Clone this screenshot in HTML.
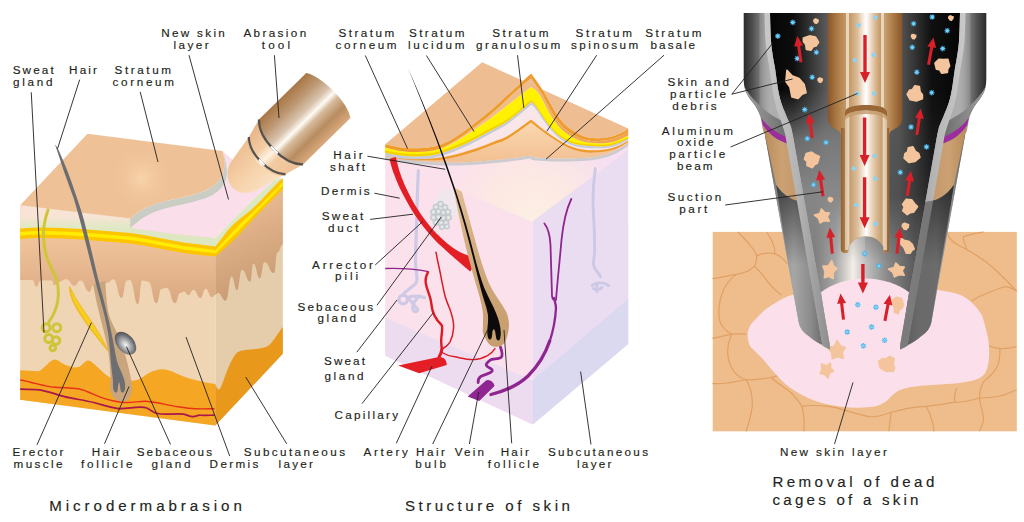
<!DOCTYPE html>
<html><head><meta charset="utf-8"><title>Microdermabrasion</title>
<style>
html,body{margin:0;padding:0;background:#fff;}
body{width:1024px;height:522px;overflow:hidden;font-family:"Liberation Sans",sans-serif;}
svg{display:block;}
text{font-family:"Liberation Sans",sans-serif;fill:#231f20;stroke:#231f20;stroke-width:0.16px;}
</style></head><body>
<svg width="1024" height="522" viewBox="0 0 1024 522">
<rect width="1024" height="522" fill="#ffffff"/>
<g id="left-diagram">
<defs>
<linearGradient id="lEpi" x1="0" y1="0" x2="0" y2="1"><stop offset="0" stop-color="#f1c59c"/><stop offset="0.55" stop-color="#e6b78f"/><stop offset="1" stop-color="#d7a780"/></linearGradient>
<linearGradient id="lEpiR" x1="0" y1="0" x2="0.25" y2="1"><stop offset="0" stop-color="#f1c8a0"/><stop offset="0.5" stop-color="#dfb088"/><stop offset="1" stop-color="#c89c74"/></linearGradient>
<linearGradient id="lPinkGreen" x1="0" y1="0" x2="0" y2="1"><stop offset="0" stop-color="#fbe3da"/><stop offset="0.45" stop-color="#f6e4d4"/><stop offset="0.7" stop-color="#e3e8c6"/><stop offset="1" stop-color="#dde7c2"/></linearGradient>
<radialGradient id="lTopHi" cx="142" cy="178" r="34" gradientUnits="userSpaceOnUse"><stop offset="0" stop-color="#f8d4ab"/><stop offset="1" stop-color="#efc197" stop-opacity="0"/></radialGradient>
<radialGradient id="lSeb" cx="0.55" cy="0.55" r="0.6"><stop offset="0" stop-color="#f6f6f6"/><stop offset="0.3" stop-color="#bcbdc0"/><stop offset="0.75" stop-color="#6a6b6e"/><stop offset="1" stop-color="#4d4d50"/></radialGradient>
<linearGradient id="tCyl" x1="0" y1="-31.5" x2="0" y2="31.5" gradientUnits="userSpaceOnUse"><stop offset="0" stop-color="#a87745"/><stop offset="0.22" stop-color="#bd9772"/><stop offset="0.42" stop-color="#d9c4ae"/><stop offset="0.53" stop-color="#fffbf5"/><stop offset="0.62" stop-color="#d6bb9c"/><stop offset="0.8" stop-color="#b88c60"/><stop offset="1" stop-color="#d9a97c"/></linearGradient>
<linearGradient id="tNeck" x1="0" y1="-30" x2="0" y2="30" gradientUnits="userSpaceOnUse"><stop offset="0" stop-color="#e6b486"/><stop offset="0.35" stop-color="#f3cba2"/><stop offset="0.52" stop-color="#fff3e2"/><stop offset="0.65" stop-color="#f3cba2"/><stop offset="1" stop-color="#eec197"/></linearGradient>
<linearGradient id="tTip" x1="0" y1="-26" x2="0" y2="26" gradientUnits="userSpaceOnUse"><stop offset="0" stop-color="#edbe92"/><stop offset="0.5" stop-color="#f6d2aa"/><stop offset="1" stop-color="#fbe2c4"/></linearGradient>
<clipPath id="lFrontClip"><polygon points="20.2,205 215.3,226 215.3,425.6 20.2,399.8"/></clipPath>
</defs>
<!-- right face base (dermis) -->
<polygon points="215.3,240 282.8,178.5 282.8,353.7 215.3,425.6" fill="#e5cdab"/>
<!-- front face base (dermis) -->
<polygon points="20.2,205.2 130.3,218.4 215.3,238 215.3,425.6 20.2,399.8" fill="#f0d5b4"/>
<!-- right face epidermis with ridges -->
<path d="M215.3,248 L282.8,183 L282.8,244.7 C280.1,244.7 280.1,252.4 277.4,252.4 C275.7,252.4 275.7,273.1 274.0,273.1 C269.2,273.1 269.2,261.9 264.5,261.9 C262.1,261.9 262.1,278.3 259.8,278.3 C256.6,278.3 256.6,263.6 253.3,263.6 C251.8,263.6 251.8,281.7 250.2,281.7 C246.1,281.7 246.1,269.7 242.0,269.7 C239.4,269.7 239.4,290.3 236.9,290.3 C234.3,290.3 234.3,276.6 231.7,276.6 C228.7,276.6 228.7,300.7 225.7,300.7 C221.8,300.7 221.8,292.9 217.9,292.9 C216.6,292.9 216.6,294.7 215.3,294.7 Z" fill="url(#lEpiR)"/>
<!-- front face epidermis with ridges -->
<path d="M20.2,232 L215.3,250 L215.3,294.7 C213.6,294.7 213.6,297.2 211.9,297.2 C208.8,297.2 208.8,288.8 205.7,288.8 C203.1,288.8 203.1,298.0 200.6,298.0 C197.0,298.0 197.0,289.9 193.4,289.9 C190.9,289.9 190.9,295.0 188.3,295.0 C186.2,295.0 186.2,291.5 184.0,291.5 C182.1,291.5 182.1,292.9 180.1,292.9 C177.6,292.9 177.6,303.2 175.0,303.2 C170.9,303.2 170.9,287.8 166.8,287.8 C164.2,287.8 164.2,288.8 161.6,288.8 C159.1,288.8 159.1,303.2 156.5,303.2 C152.4,303.2 152.4,281.7 148.3,281.7 C145.2,281.7 145.2,280.6 142.2,280.6 C140.1,280.6 140.1,304.2 138.0,304.2 C133.9,304.2 133.9,280.0 129.8,280.0 C128.3,280.0 128.3,280.6 126.8,280.6 C124.2,280.6 124.2,298.0 121.6,298.0 C117.5,298.0 117.5,279.2 113.4,279.2 C110.3,279.2 110.3,282.7 107.3,282.7 C103.7,282.7 103.7,290.0 100.0,290.0 C97.0,290.0 97.0,283.7 94.0,283.7 C91.6,283.7 91.6,291.9 89.2,291.9 C84.9,291.9 84.9,280.6 80.6,280.6 C77.5,280.6 77.5,285.8 74.5,285.8 C70.4,285.8 70.4,279.2 66.3,279.2 C62.6,279.2 62.6,281.7 59.0,281.7 C56.5,281.7 56.5,285.4 54.0,285.4 C53.0,285.4 53.0,280.6 51.9,280.6 C46.2,280.6 46.2,280.6 40.6,280.6 C38.5,280.6 38.5,286.8 36.5,286.8 C34.5,286.8 34.5,280.0 32.4,280.0 C26.3,280.0 26.3,280.0 20.2,280.0 Z" fill="url(#lEpi)"/>
<!-- erector muscle -->
<path d="M68.8,286.7 C69.0,287.8 69.1,290.9 69.8,293.7 C70.6,296.4 71.6,299.8 73.2,303.2 C74.8,306.6 76.9,310.2 79.5,314.2 C82.1,318.1 86.0,323.7 88.5,327.2 C91.1,330.8 92.8,332.6 94.9,335.4 C97.1,338.2 99.5,341.3 101.6,343.9 C103.7,346.6 106.6,350.0 107.6,351.3 L108.4,350.7 C107.8,349.3 106.0,345.1 104.4,342.1 C102.9,339.1 100.9,335.6 99.1,332.6 C97.2,329.5 95.9,327.4 93.5,323.8 C91.0,320.2 87.1,314.7 84.5,310.8 C81.9,307.0 79.7,303.9 77.8,300.8 C75.9,297.7 74.5,294.7 73.2,292.3 C71.9,289.9 70.5,287.3 70.0,286.3 Z" fill="#edbd2a"/>
<path d="M71.0,292.2 C71.7,293.9 73.2,299.1 74.9,302.6 C76.5,306.1 78.7,309.5 81.2,313.4 C83.6,317.3 87.2,322.4 89.7,325.9 C92.2,329.4 93.9,331.5 96.0,334.2 C98.2,336.9 101.5,340.9 102.6,342.3 L103.4,341.7 C102.5,340.2 99.8,335.7 98.0,332.8 C96.1,329.9 94.7,327.6 92.3,324.1 C90.0,320.6 86.4,315.4 83.8,311.6 C81.3,307.8 79.1,304.7 77.1,301.4 C75.2,298.1 72.8,293.4 72.0,291.8 Z" fill="#f8cf1c"/>
<!-- hypodermis front -->
<path d="M20.2,370.3 L39,371.200 C45,368 50,360 54.700,359.5 C58,359.500 61,363 64.500,364.400 C69,366 73,368 78,367.300 C82,366 85,360.500 87.900,360.500 C91,360.5 94,364 97.700,367.300 C102,371 105,375 109.400,377 C118,381 128,382 136.700,380 C141,379 144,375.500 148.400,373.200 C153,371 158,369.300 162,369.300 C167,369.3 171,371 175.800,373.200 C182,376 189,378.500 195.300,380 C203,382 209,383 215.3,384 L215.3,425.6 L20.2,399.8 Z" fill="#f5a623"/>
<!-- hypodermis right -->
<path d="M215.3,384 C216.5,387 217.5,390 219,389.5 C221,388.5 222.500,383 224,379 C227,371 229.500,364 232,360 C234,356 236,353 238,352 C242,350 246,350 250,349.500 C256,349 262,348.500 267,346.500 C270,345 272.500,341.500 275,338 C278,334 280,330 282.8,327 L282.8,353.7 L215.3,425.6 Z" fill="#e8991c"/>
<!-- vessels -->
<path d="M20.2,380 C24,380.5 27,381.500 29.300,382 C38,384 46,386.500 54.700,387.300 C63,388 71,387.500 78,388.800 C87,390.500 94,395 101.600,397.600 C109,400 117,402 125,402.500 C133,403 141,400.500 148.400,401.500 C158,402.500 167,405 175.800,406.400 C183,407.500 189,408.500 195.300,408.750 C202,409 208,408.800 214.500,408.750" fill="none" stroke="#e8311a" stroke-width="1.4"/>
<path d="M20.2,389.2 C27,389.500 33,389 39,389.800 C48,391 56,394.500 64.500,396.600 C74,399 84,400 93.750,402.500 C102,404.500 109,407.500 117.200,408.400 C126,409.500 136,406 144.500,407.400 C149,408 152,412 156.250,413.200 C165,415.500 175,413 183.600,414.200 C187,414.700 190,417 193.400,416.600 C196,416.300 198,415 200,415.200 C205,415.500 210,415.200 214.500,415.200" fill="none" stroke="#a9174b" stroke-width="1.7"/>
<!-- hair follicle -->
<path d="M93,284 C94,289 96,300 98.5,310.3 C100.500,319 103,328 105.2,337.1 C107,345 108.500,352 109.2,358.6 C110,366 110.200,372 110.5,377.4 C110.500,382 109.800,386 110.5,390.8 C111.500,397 116,401.5 122.6,401.5 C128,401.500 132,396 132,388 C132,384 131.500,381 130.7,377.4 C129,369 126.500,359 124,350.5 C121.500,343 119,336 115.9,330.4 C112,323 109,317 107.9,310.3 C106.500,302 106,292 105.2,281 Z" fill="#c9a57e"/>
<!-- pale layers front (left part) -->
<polygon points="20.2,205.2 130.3,218.4 130.3,234 20.2,229" fill="url(#lPinkGreen)"/>
<!-- green front abraded part + around corner -->
<path d="M130.3,226.5 L170,233.5 L215.3,238 L236,216.600 L255.500,197.100 L275,179.500 L282.8,178.5 L282.8,186 L215.3,250 L130.3,236 Z" fill="#dde7c2"/>
<!-- new skin pink -->
<path d="M130.3,227.8 C140,219 150,213 162,209.5 C176,205.5 192,203 205,198.500 C215,195 224,188 226.500,178 C228,170 226,160 222.5,151 L240,166 L282.8,178.5 L275,179.500 L255.500,197.100 L236,216.600 L215.3,238 L170,233.5 Z" fill="#fadfeb"/>
<!-- grey cut edge -->
<path d="M130.3,218.4 C140,210 150,205 160,202.5 C176,198.500 192,196 203,191.500 C213,187.500 221,181 223.500,172 C225,165 224.500,158 222.5,151 C226,160 228,170 226.500,178 C224,188 215,195 205,198.500 C192,203 176,205.500 162,209.500 C150,213 140,219 130.3,227.8 Z" fill="#c9cdc4"/>
<!-- top face -->
<path d="M20.2,205.2 L87.5,133.750 L222.5,151 C224.500,158 225,165 223.500,172 C221,181 213,187.500 203,191.500 C192,196 176,198.500 160,202.500 C150,205 140,210 130.3,218.4 Z" fill="#efc197"/>
<path d="M20.2,205.2 L87.5,133.750 L222.5,151 C224.500,158 225,165 223.500,172 C221,181 213,187.500 203,191.500 C192,196 176,198.500 160,202.500 C150,205 140,210 130.3,218.4 Z" fill="url(#lTopHi)"/>
<!-- yellow band front + right -->
<path d="M20.2,228.6 C34,227 48,227.500 62,228 C75,228.500 88,229.500 100,230.500 C110,231.300 120,232 130,233 C144,235 157,237.500 170,240 C180,242 190,243.500 200,244.500 C205,245 210,246 215.3,246.5 C222,239 228,228 237.900,220.500 C244,215 251,211 259.400,202 C267,194 274,186 280.900,179.500 L282.8,178.5 L282.8,189.3 C275,197 267,205 259.400,212.700 C252,221 246,226 239.800,234.200 C231,243 223,250 215.3,256.5 C210,256 205,255.500 200,255 C190,254 180,252.500 170,250.500 C157,248 144,245.500 130,243.500 C120,242.500 110,241.800 100,241 C88,240 75,239 62,238.500 C48,238 34,237.500 20.2,239.2 Z" fill="#fdc400"/>
<path d="M20.2,232 C34,230.500 48,231 62,231.500 C75,232 88,233 100,234 C110,234.800 120,235.500 130,236.500 C144,238.500 157,241 170,243.500 C180,245.500 190,247 200,248 C205,248.500 210,249.500 215.3,250.500 L238.500,225.500 L259.400,206 L282.8,182.5 L282.8,185.500 L259.400,209.200 L239.300,230 L215.3,253.500 C210,252.500 205,252 200,251.500 C190,250.500 180,249 170,247 C157,244.500 144,242 130,240 C120,239 110,238.300 100,237.500 C88,236.500 75,235.500 62,235 C48,234.500 34,234 20.2,235.500 Z" fill="#ffec00"/>
<!-- sweat gland -->
<g fill="none" stroke="#cfc53b" stroke-width="3" stroke-linecap="round">
<path d="M48,210 C44.500,220 43,229 43.6,238 C44,246 45,252 47,258 C50,266 54,273 56.800,280 C58.300,285 58.500,291 58.2,297 C57.800,304 55.500,310 52.8,315.6 C51.500,318 50,320 49,322"/>
<circle cx="46.100" cy="327.700" r="4"/><circle cx="56.800" cy="327.700" r="4"/><circle cx="48.800" cy="338.500" r="4"/><circle cx="56" cy="340.600" r="3.800"/><circle cx="52.800" cy="348" r="2.800"/>
</g>
<!-- hair -->
<path d="M55,144.5 C58,153 60.800,162 63.800,171 C67.300,181 70.800,190 73.900,199 C77.400,210 80.500,222 83.500,234 C87,248 90.500,262 94,276 C97,288 100,298 102.800,309 C105.300,318 107.300,328 108.600,337 C109.600,345 110.200,353 110.700,360.600 C111.200,366 111.700,370 112.200,374 C112.800,378 113,381 113,384 C113,387 113.200,389.500 114,391 C115,392.800 116.800,393.200 117.500,391 C118,389 118,384 119,382 C120.200,384 120.200,389 120.800,391 C121.500,393.200 123.500,392.800 124.400,391 C125.300,389 125.200,386 125,383.600 C124.500,380 123.500,377 122,373.500 C120,369 118,365 116.800,360.600 C115.500,355 114.800,350 113.800,345 C112.500,338 110.800,329 108.800,321 C106.500,311 104,301 101.300,291 C97.300,277 94.300,262 90.800,248 C87.800,236 85,223 81.600,212 C78.400,202 75,192 71.500,182 C68,172 63.500,161 59,151 C58,148.500 56.500,146 55,144.500 Z" fill="#6d6e71"/>
<!-- sebaceous gland -->
<ellipse cx="125.5" cy="343.2" rx="13.2" ry="8.6" transform="rotate(50 125.5 343.2)" fill="url(#lSeb)"/>
<!-- abrasion tool -->
<g transform="translate(281,142) rotate(-44.5)">
<path d="M-19.4,-26.2 L-50,-20.800 C-59,-18.500 -66.700,-10 -66.700,-1 C-66.700,7 -61,13 -53,16.500 L-19.4,26.2 Z" fill="url(#tTip)"/>
<path d="M-19.4,-26.2 L0,-31.500 C-14,-18 -14,18 0,31.500 L-19.4,26.2 C-31,14 -31,-14 -19.4,-26.2 Z" fill="url(#tNeck)"/>
<path d="M-19.4,-26.2 C-31,-14 -31,14 -19.4,26.2 L-22,26 C-34,14 -34,-14 -22,-26 Z" fill="url(#tNeck)"/>
<path d="M0,-31.500 L66.400,-31.500 C75.500,-18 75.500,18 66.400,31.500 L0,31.500 C-14,18 -14,-18 0,-31.500 Z" fill="url(#tCyl)"/>
<path d="M0,-31.500 C-14,-18 -14,18 0,31.500" fill="none" stroke="#55524f" stroke-width="2.200"/>
<path d="M-19.4,-26.2 C-31,-14 -31,14 -19.4,26.2" fill="none" stroke="#55524f" stroke-width="2.200"/>
<path d="M-10.400,-3 C-10.600,0 -10.600,2 -10.400,5" fill="none" stroke="#fff" stroke-width="2.200" stroke-linecap="round"/>
<path d="M-28,-2 C-28.200,0 -28.200,2 -28,4" fill="none" stroke="#fff" stroke-width="2.200" stroke-linecap="round"/>
</g>

</g>
<g id="mid-diagram">
<defs>
<linearGradient id="mTopQ" x1="0" y1="160" x2="0" y2="222" gradientUnits="userSpaceOnUse"><stop offset="0" stop-color="#f6dff0"/><stop offset="1" stop-color="#fbe4ec"/></linearGradient>
<radialGradient id="mGlow" cx="533" cy="222" r="95" gradientUnits="userSpaceOnUse"><stop offset="0" stop-color="#fdf0e4"/><stop offset="0.5" stop-color="#fdebe0" stop-opacity="0.75"/><stop offset="1" stop-color="#fde8e2" stop-opacity="0"/></radialGradient>
<linearGradient id="mPeach" x1="0" y1="120" x2="0" y2="162" gradientUnits="userSpaceOnUse"><stop offset="0" stop-color="#fbd9b2"/><stop offset="1" stop-color="#f2c092"/></linearGradient>
<linearGradient id="mUnder" x1="385" y1="0" x2="628" y2="0" gradientUnits="userSpaceOnUse"><stop offset="0" stop-color="#f0c090"/><stop offset="0.6" stop-color="#efbb8a"/><stop offset="0.75" stop-color="#efa55c"/><stop offset="1" stop-color="#efa150"/></linearGradient>
<radialGradient id="mSebC" cx="0.5" cy="0.5" r="0.5"><stop offset="0" stop-color="#eef1f2"/><stop offset="0.45" stop-color="#dde1e3"/><stop offset="1" stop-color="#bcc2c6"/></radialGradient>
<linearGradient id="mFol" x1="0" y1="186" x2="0" y2="347" gradientUnits="userSpaceOnUse"><stop offset="0" stop-color="#e0bd94"/><stop offset="0.45" stop-color="#d0aa7c"/><stop offset="1" stop-color="#c69d6c"/></linearGradient>
</defs>
<!-- left face + top -->
<polygon points="385.2,150 532.7,150 532.7,424.6 385.2,355.7" fill="#fbe1ec"/>
<!-- top quad of dermis (right portion) -->
<polygon points="532.7,150 628.2,140 628.2,152 532.7,221" fill="url(#mTopQ)"/>
<polygon points="532.7,222 385.2,158 628.2,150 628.2,152" fill="url(#mGlow)"/>
<!-- right face -->
<polygon points="532.7,221 628.2,150 628.2,344 532.7,424.6" fill="#ebddf1"/>
<!-- subcutaneous -->
<polygon points="385.2,318 532.7,380.2 532.7,424.6 385.2,355.7" fill="#eddcf0"/>
<polygon points="532.7,380.2 628.2,299 628.2,344 532.7,424.6" fill="#dad9ef"/>
<!-- peeled layers -->
<path d="M385.2,156.7 C389.3,157.2 399.9,159.0 410.0,160.0 C420.1,161.0 434.4,162.3 445.6,162.5 C456.8,162.7 467.1,162.0 477.0,161.4 C486.9,160.8 496.3,159.9 505.0,159.0 C513.7,158.1 524.6,156.4 529.0,155.8 C533.4,155.2 530.8,155.6 531.1,155.5 L531.1,155.5 C531.6,155.8 530.1,156.8 534.0,157.3 C537.9,157.8 545.6,158.4 554.3,158.5 C562.9,158.6 577.4,158.5 585.9,157.8 C594.4,157.1 599.7,155.9 605.0,154.5 C610.3,153.1 613.6,151.4 617.5,149.5 C621.4,147.6 626.4,144.1 628.2,143.0 L628.2,146.0 C626.4,147.1 621.4,150.6 617.5,152.5 C613.6,154.4 610.3,156.1 605.0,157.5 C599.7,158.9 594.4,160.1 585.9,160.8 C577.4,161.5 562.9,161.6 554.3,161.5 C545.6,161.4 537.9,160.8 534.0,160.3 C530.1,159.8 531.6,158.8 531.1,158.5 L531.1,158.5 C530.8,158.6 533.4,158.2 529.0,158.8 C524.6,159.4 513.7,161.1 505.0,162.0 C496.3,162.9 486.9,163.8 477.0,164.4 C467.1,165.0 456.8,165.7 445.6,165.5 C434.4,165.3 420.1,164.0 410.0,163.0 C399.9,162.0 389.3,160.2 385.2,159.7 Z" fill="#cbcbd0"/>
<path d="M385.2,156.5 C388.7,157.0 398.9,159.0 406.4,159.7 C413.9,160.4 423.5,160.7 430.0,160.6 C436.5,160.5 440.4,160.1 445.6,159.3 C450.8,158.5 456.1,157.2 461.3,155.8 C466.5,154.4 471.8,152.8 477.0,151.0 C482.2,149.2 487.5,147.1 492.7,145.0 C497.9,142.9 502.0,142.2 508.4,138.5 C514.8,134.8 527.3,125.2 531.1,122.6 L531.1,122.6 C533.5,124.5 540.2,130.1 545.8,134.0 C551.4,137.9 559.2,143.1 564.8,146.0 C570.4,148.9 574.2,150.3 579.5,151.4 C584.8,152.5 590.8,152.9 596.4,152.6 C602.0,152.3 607.9,151.5 613.2,149.8 C618.5,148.1 625.7,143.5 628.2,142.2 L628.2,143.0 C626.4,144.1 621.4,147.6 617.5,149.5 C613.6,151.4 610.3,153.1 605.0,154.5 C599.7,155.9 594.4,157.1 585.9,157.8 C577.4,158.5 562.9,158.6 554.3,158.5 C545.6,158.4 537.9,157.8 534.0,157.3 C530.1,156.8 531.6,155.8 531.1,155.5 L531.1,155.5 C530.8,155.6 533.4,155.2 529.0,155.8 C524.6,156.4 513.7,158.1 505.0,159.0 C496.3,159.9 486.9,160.8 477.0,161.4 C467.1,162.0 456.8,162.7 445.6,162.5 C434.4,162.3 420.1,161.0 410.0,160.0 C399.9,159.0 389.3,157.2 385.2,156.7 Z" fill="url(#mPeach)"/>
<path d="M385.2,155.8 C388.7,156.3 398.9,158.6 406.4,159.0 C413.9,159.4 423.5,159.2 430.0,158.5 C436.5,157.8 440.4,156.3 445.6,154.6 C450.8,152.9 456.1,150.8 461.3,148.5 C466.5,146.2 471.8,143.6 477.0,140.9 C482.2,138.2 487.5,135.4 492.7,132.5 C497.9,129.6 502.0,128.2 508.4,123.6 C514.8,119.0 527.3,108.2 531.1,105.1 L531.1,105.1 C531.8,105.7 532.5,104.9 535.3,108.5 C538.1,112.1 543.8,121.4 548.0,126.5 C552.2,131.6 556.1,136.0 560.6,139.3 C565.1,142.6 569.3,144.7 575.3,146.2 C581.3,147.7 590.1,148.2 596.4,148.3 C602.7,148.4 607.9,148.0 613.2,146.7 C618.5,145.3 625.7,141.3 628.2,140.2 L628.2,141.0 C625.7,142.1 618.5,146.3 613.2,147.8 C607.9,149.3 602.0,150.0 596.4,150.2 C590.8,150.4 584.8,150.0 579.5,148.9 C574.2,147.8 570.4,146.4 564.8,143.5 C559.2,140.6 551.4,135.2 545.8,131.2 C540.2,127.2 533.5,121.5 531.1,119.5 L531.1,119.5 C527.3,122.2 514.8,131.8 508.4,135.5 C502.0,139.2 497.9,139.9 492.7,142.0 C487.5,144.1 482.2,146.3 477.0,148.1 C471.8,149.9 466.5,151.6 461.3,153.0 C456.1,154.4 450.8,155.8 445.6,156.7 C440.4,157.6 436.5,158.2 430.0,158.5 C423.5,158.8 413.9,158.9 406.4,158.5 C398.9,158.1 388.7,156.4 385.2,156.0 Z" fill="#f9e6e8"/>
<path d="M385.2,156.0 C388.7,156.4 398.9,158.1 406.4,158.5 C413.9,158.9 423.5,158.8 430.0,158.5 C436.5,158.2 440.4,157.6 445.6,156.7 C450.8,155.8 456.1,154.4 461.3,153.0 C466.5,151.6 471.8,149.9 477.0,148.1 C482.2,146.3 487.5,144.1 492.7,142.0 C497.9,139.9 502.0,139.2 508.4,135.5 C514.8,131.8 527.3,122.2 531.1,119.5 L531.1,119.5 C533.5,121.5 540.2,127.2 545.8,131.2 C551.4,135.2 559.2,140.6 564.8,143.5 C570.4,146.4 574.2,147.8 579.5,148.9 C584.8,150.0 590.8,150.4 596.4,150.2 C602.0,150.0 607.9,149.3 613.2,147.8 C618.5,146.3 625.7,142.1 628.2,141.0 L628.2,142.2 C625.7,143.5 618.5,148.1 613.2,149.8 C607.9,151.5 602.0,152.3 596.4,152.6 C590.8,152.9 584.8,152.5 579.5,151.4 C574.2,150.3 570.4,148.9 564.8,146.0 C559.2,143.1 551.4,137.9 545.8,134.0 C540.2,130.1 533.5,124.5 531.1,122.6 L531.1,122.6 C527.3,125.2 514.8,134.8 508.4,138.5 C502.0,142.2 497.9,142.9 492.7,145.0 C487.5,147.1 482.2,149.2 477.0,151.0 C471.8,152.8 466.5,154.4 461.3,155.8 C456.1,157.2 450.8,158.5 445.6,159.3 C440.4,160.1 436.5,160.5 430.0,160.6 C423.5,160.7 413.9,160.4 406.4,159.7 C398.9,159.0 388.7,157.0 385.2,156.5 Z" fill="#ef9c2e"/>
<path d="M385.2,152.8 C388.7,153.3 398.9,155.6 406.4,156.0 C413.9,156.4 423.5,156.2 430.0,155.5 C436.5,154.8 440.4,153.3 445.6,151.6 C450.8,149.9 456.1,147.8 461.3,145.5 C466.5,143.2 471.8,140.6 477.0,137.9 C482.2,135.2 487.5,132.4 492.7,129.5 C497.9,126.6 502.0,125.2 508.4,120.6 C514.8,116.0 527.3,105.2 531.1,102.1 L531.1,102.1 C531.8,102.6 532.5,101.6 535.3,105.3 C538.1,109.0 543.8,118.7 548.0,124.0 C552.2,129.3 556.1,133.7 560.6,137.0 C565.1,140.3 569.3,142.5 575.3,144.0 C581.3,145.5 590.1,146.1 596.4,146.2 C602.7,146.3 607.9,146.0 613.2,144.7 C618.5,143.4 625.7,139.5 628.2,138.5 L628.2,140.2 C625.7,141.3 618.5,145.3 613.2,146.7 C607.9,148.0 602.7,148.4 596.4,148.3 C590.1,148.2 581.3,147.7 575.3,146.2 C569.3,144.7 565.1,142.6 560.6,139.3 C556.1,136.0 552.2,131.6 548.0,126.5 C543.8,121.4 538.1,112.1 535.3,108.5 C532.5,104.9 531.8,105.7 531.1,105.1 L531.1,105.1 C527.3,108.2 514.8,119.0 508.4,123.6 C502.0,128.2 497.9,129.6 492.7,132.5 C487.5,135.4 482.2,138.2 477.0,140.9 C471.8,143.6 466.5,146.2 461.3,148.5 C456.1,150.8 450.8,152.9 445.6,154.6 C440.4,156.3 436.5,157.8 430.0,158.5 C423.5,159.2 413.9,159.4 406.4,159.0 C398.9,158.6 388.7,156.3 385.2,155.8 Z" fill="#c6c9d8"/>
<path d="M385.2,147.8 C388.7,148.5 398.9,151.2 406.4,151.7 C413.9,152.2 423.5,151.8 430.0,151.0 C436.5,150.2 440.4,148.9 445.6,146.8 C450.8,144.7 456.1,141.5 461.3,138.3 C466.5,135.1 471.8,131.4 477.0,127.8 C482.2,124.2 487.5,120.6 492.7,116.7 C497.9,112.8 502.0,109.5 508.4,104.6 C514.8,99.6 527.3,89.9 531.1,87.0 L531.1,87.0 C532.4,88.2 535.4,88.7 539.0,94.0 C542.6,99.3 548.8,112.8 553.0,119.0 C557.2,125.2 559.6,127.9 564.0,131.5 C568.4,135.1 574.1,138.5 579.5,140.5 C584.9,142.5 590.8,143.1 596.4,143.3 C602.0,143.5 607.9,143.1 613.2,141.8 C618.5,140.5 625.7,136.6 628.2,135.5 L628.2,138.5 C625.7,139.5 618.5,143.4 613.2,144.7 C607.9,146.0 602.7,146.3 596.4,146.2 C590.1,146.1 581.3,145.5 575.3,144.0 C569.3,142.5 565.1,140.3 560.6,137.0 C556.1,133.7 552.2,129.3 548.0,124.0 C543.8,118.7 538.1,109.0 535.3,105.3 C532.5,101.6 531.8,102.6 531.1,102.1 L531.1,102.1 C527.3,105.2 514.8,116.0 508.4,120.6 C502.0,125.2 497.9,126.6 492.7,129.5 C487.5,132.4 482.2,135.2 477.0,137.9 C471.8,140.6 466.5,143.2 461.3,145.5 C456.1,147.8 450.8,149.9 445.6,151.6 C440.4,153.3 436.5,154.8 430.0,155.5 C423.5,156.2 413.9,156.4 406.4,156.0 C398.9,155.6 388.7,153.3 385.2,152.8 Z" fill="#fff100"/>
<path d="M385.2,150.6 C388.7,151.1 398.9,153.4 406.4,153.8 C413.9,154.2 423.5,154.0 430.0,153.3 C436.5,152.6 440.4,151.1 445.6,149.4 C450.8,147.7 456.1,145.6 461.3,143.3 C466.5,141.0 471.8,138.4 477.0,135.7 C482.2,133.0 487.5,130.2 492.7,127.3 C497.9,124.4 502.0,123.0 508.4,118.4 C514.8,113.8 527.3,103.0 531.1,99.9 L531.1,100.6 C531.8,101.1 532.5,100.1 535.3,103.8 C538.1,107.5 543.8,117.2 548.0,122.5 C552.2,127.8 556.1,132.2 560.6,135.5 C565.1,138.8 569.3,141.0 575.3,142.5 C581.3,144.0 590.1,144.6 596.4,144.7 C602.7,144.8 607.9,144.5 613.2,143.2 C618.5,141.9 625.7,138.0 628.2,137.0 L628.2,138.5 C625.7,139.5 618.5,143.4 613.2,144.7 C607.9,146.0 602.7,146.3 596.4,146.2 C590.1,146.1 581.3,145.5 575.3,144.0 C569.3,142.5 565.1,140.3 560.6,137.0 C556.1,133.7 552.2,129.3 548.0,124.0 C543.8,118.7 538.1,109.0 535.3,105.3 C532.5,101.6 531.8,102.6 531.1,102.1 L531.1,102.1 C527.3,105.2 514.8,116.0 508.4,120.6 C502.0,125.2 497.9,126.6 492.7,129.5 C487.5,132.4 482.2,135.2 477.0,137.9 C471.8,140.6 466.5,143.2 461.3,145.5 C456.1,147.8 450.8,149.9 445.6,151.6 C440.4,153.3 436.5,154.8 430.0,155.5 C423.5,156.2 413.9,156.4 406.4,156.0 C398.9,155.6 388.7,153.3 385.2,152.8 Z" fill="#f3d000"/>
<path d="M385.2,147.8 C388.7,148.5 398.9,151.2 406.4,151.7 C413.9,152.2 423.5,151.8 430.0,150.9 C436.5,150.0 440.4,148.5 445.6,146.2 C450.8,143.9 456.1,140.4 461.3,136.9 C466.5,133.4 471.8,129.2 477.0,125.2 C482.2,121.2 486.7,117.9 492.7,112.7 C498.7,107.5 506.7,99.9 513.1,94.1 C519.5,88.3 528.1,80.5 531.1,77.8 L531.1,77.8 C532.8,80.5 537.4,86.9 541.5,93.8 C545.6,100.7 551.4,112.6 556.0,119.0 C560.6,125.4 563.8,128.6 569.0,132.2 C574.2,135.8 580.7,139.0 587.0,140.3 C593.3,141.7 601.2,141.1 607.0,140.3 C612.8,139.5 618.2,137.0 621.7,135.5 C625.2,134.0 627.1,132.0 628.2,131.3 L628.2,135.5 C625.7,136.6 618.5,140.5 613.2,141.8 C607.9,143.1 602.0,143.5 596.4,143.3 C590.8,143.1 584.9,142.5 579.5,140.5 C574.1,138.5 568.4,135.1 564.0,131.5 C559.6,127.9 557.2,125.2 553.0,119.0 C548.8,112.8 542.6,99.3 539.0,94.0 C535.4,88.7 532.4,88.2 531.1,87.0 L531.1,87.0 C527.3,89.9 514.8,99.6 508.4,104.6 C502.0,109.5 497.9,112.8 492.7,116.7 C487.5,120.6 482.2,124.2 477.0,127.8 C471.8,131.4 466.5,135.1 461.3,138.3 C456.1,141.5 450.8,144.7 445.6,146.8 C440.4,148.9 436.5,150.2 430.0,151.0 C423.5,151.8 413.9,152.2 406.4,151.7 C398.9,151.2 388.7,148.5 385.2,147.8 Z" fill="url(#mUnder)"/>
<path d="M385.2,144.2 L482.1,62.3 L628.2,128.5 L628.2,128.5 C627.1,129.2 625.2,131.2 621.7,132.7 C618.2,134.2 612.6,136.7 607.0,137.5 C601.4,138.3 594.0,138.8 588.0,137.5 C582.0,136.2 576.0,132.9 571.1,129.5 C566.2,126.1 563.1,123.2 558.5,116.9 C553.9,110.6 548.3,98.8 543.7,91.6 C539.1,84.4 533.2,76.7 531.1,73.7 L531.1,73.7 C528.1,76.4 519.5,84.2 513.1,90.0 C506.7,95.8 498.7,103.6 492.7,108.8 C486.7,114.0 482.2,117.3 477.0,121.4 C471.8,125.5 466.5,129.7 461.3,133.2 C456.1,136.7 450.8,140.2 445.6,142.6 C440.4,144.9 436.5,146.4 430.0,147.3 C423.5,148.2 413.9,148.6 406.4,148.1 C398.9,147.6 388.7,144.8 385.2,144.2 Z" fill="#eebd91"/>
<path d="M385.2,144.2 C388.7,144.8 398.9,147.6 406.4,148.1 C413.9,148.6 423.5,148.2 430.0,147.3 C436.5,146.4 440.4,144.9 445.6,142.6 C450.8,140.2 456.1,136.7 461.3,133.2 C466.5,129.7 471.8,125.5 477.0,121.4 C482.2,117.3 486.7,114.0 492.7,108.8 C498.7,103.6 506.7,95.8 513.1,90.0 C519.5,84.2 528.1,76.4 531.1,73.7 L531.1,73.7 C533.2,76.7 539.1,84.4 543.7,91.6 C548.3,98.8 553.9,110.6 558.5,116.9 C563.1,123.2 566.2,126.1 571.1,129.5 C576.0,132.9 582.0,136.2 588.0,137.5 C594.0,138.8 601.4,138.3 607.0,137.5 C612.6,136.7 618.2,134.2 621.7,132.7 C625.2,131.2 627.1,129.2 628.2,128.5 L628.2,131.3 C627.1,132.0 625.2,134.0 621.7,135.5 C618.2,137.0 612.8,139.5 607.0,140.3 C601.2,141.1 593.3,141.7 587.0,140.3 C580.7,139.0 574.2,135.8 569.0,132.2 C563.8,128.6 560.6,125.4 556.0,119.0 C551.4,112.6 545.6,100.7 541.5,93.8 C537.4,86.9 532.8,80.5 531.1,77.8 L531.1,77.8 C528.1,80.5 519.5,88.3 513.1,94.1 C506.7,99.9 498.7,107.5 492.7,112.7 C486.7,117.9 482.2,121.2 477.0,125.2 C471.8,129.2 466.5,133.4 461.3,136.9 C456.1,140.4 450.8,143.9 445.6,146.2 C440.4,148.5 436.5,150.0 430.0,150.9 C423.5,151.8 413.9,152.2 406.4,151.7 C398.9,151.2 388.7,148.5 385.2,147.8 Z" fill="#ef9c2e"/>
<!-- sweat duct left face -->
<g fill="none" stroke="#cec9e5" stroke-width="3.200" stroke-linecap="round" stroke-linejoin="round">
<path d="M418.300,170.700 C417.500,190 417,205 416.800,216.700 C416.500,235 415.300,250 415.500,262.700 C415.700,270 417.500,277 416.800,281 C416,285 412,286.500 409.800,288.500 C407,290.500 405,292 403.500,294"/>
<circle cx="403.200" cy="299.500" r="4.300"/>
<path d="M408,297.500 C413,295.500 419,296 424.500,297.500 M409,298.500 C411,302 414.500,305.500 417,308.500 C418.500,311 415.500,313 413.500,310.500 C411.500,307.500 413.500,301.500 417.500,298"/>
</g>
<!-- sweat duct right face -->
<g fill="none" stroke="#ccc8e6" stroke-width="2.900" stroke-linecap="round" stroke-linejoin="round">
<path d="M595.300,168.500 C593,185 592.500,200 593.500,215 C594.500,230 594.800,240 594.600,252 C594.400,258 593,262 593.500,265 C594.500,270 599,273 600.500,276.700"/>
<path d="M592,285.500 C596,282 604,282 608.500,285.500 M597,283 L597,292 M593.500,288.500 C596,290.500 600,290 602,287.500"/>
</g>
<!-- purple lines right face -->
<g fill="none" stroke="#8f2590" stroke-width="1.800" stroke-linecap="round">
<path d="M544.400,223.500 C548,228 550,235 550.500,245 C551,260 551.500,280 552,295.400 C552.200,298.500 553,299.500 554,299.500"/>
<path d="M571.300,199 C566,210 563,225 561.500,240 C560,258 557.500,280 556,300"/>
</g>
<path d="M554,298 C555,302 556,305 556,308 C555.500,318 553.500,330 549.500,342" fill="none" stroke="#8f2590" stroke-width="2.300" stroke-linecap="round"/>
<path d="M549.700,341 C545,355 537,367 528,376 C518,385.500 505,391 491,394.500" fill="none" stroke="#8f2590" stroke-width="3.300" stroke-linecap="round"/>
<!-- arrector pili -->
<path d="M389.4,158.9 C390.1,161.2 391.9,168.3 393.6,173.0 C395.2,177.7 397.2,182.5 399.4,187.2 C401.5,191.8 403.9,196.4 406.4,200.8 C408.9,205.3 411.4,209.7 414.2,214.0 C417.1,218.3 420.3,222.7 423.4,226.7 C426.5,230.7 429.7,234.4 433.0,237.9 C436.2,241.5 439.7,244.7 443.0,247.8 C446.3,250.9 449.7,253.9 452.7,256.6 C455.8,259.3 458.3,261.5 461.3,264.0 C464.2,266.5 468.9,270.3 470.4,271.6 L477.6,258.4 C475.8,257.9 470.1,256.3 466.7,255.0 C463.3,253.7 460.5,252.4 457.3,250.4 C454.0,248.5 450.4,245.9 447.0,243.2 C443.7,240.4 440.3,237.4 437.0,234.1 C433.8,230.8 430.7,227.2 427.6,223.3 C424.6,219.5 421.5,215.2 418.8,211.0 C416.0,206.8 413.6,202.5 411.2,198.2 C408.9,193.8 406.6,189.3 404.6,184.8 C402.7,180.3 400.9,175.6 399.4,171.0 C398.0,166.4 396.4,159.4 395.8,157.1 Z" fill="#e31e25"/>
<!-- sebaceous gland cluster -->
<ellipse cx="447" cy="205" rx="13" ry="16" fill="#eee8ee" opacity="0.8" transform="rotate(25 447 205)"/>
<g fill="url(#mSebC)" stroke="#bfc5c9" stroke-width="0.700">
<circle cx="436" cy="207" r="3"/><circle cx="440.500" cy="204" r="3"/><circle cx="445" cy="207.500" r="3"/><circle cx="433.500" cy="212" r="3"/><circle cx="438.500" cy="211.500" r="3"/><circle cx="443.500" cy="212.500" r="3"/><circle cx="448" cy="212" r="3"/><circle cx="433.500" cy="217.500" r="3"/><circle cx="438.500" cy="217" r="3"/><circle cx="443.500" cy="218" r="3"/><circle cx="448.500" cy="217.500" r="3"/><circle cx="436" cy="222.500" r="3"/><circle cx="441" cy="223" r="3"/><circle cx="446" cy="223" r="3"/><circle cx="442" cy="227" r="2.600"/><circle cx="447" cy="226.500" r="2.600"/>
</g>
<!-- thin purple line -->
<path d="M385.300,268.500 C400,268 415,269 428.500,271.600" fill="none" stroke="#8f2590" stroke-width="1.300"/>
<!-- capillaries -->
<g fill="none" stroke="#de1a22" stroke-linecap="round" stroke-linejoin="round">
<path d="M428,272 C426.500,275 425.300,278 425.600,281.400 C426,287 428.500,292 430.200,297.800 C431.500,302 431.500,307 432.600,310.600 C433.500,314 435.500,317.500 437.200,320 C438.500,322 441,323.500 441.900,325.800 C442.800,329 441.500,334 441.200,339.800 C441,343 441.500,346 441.900,349.200" stroke-width="2.400"/>
<path d="M436,252.200 C437,258 438.200,264 439.600,269.700 C441,277 442.500,285 444.300,293 C445.500,299 447.800,304 450,309.400 C452,315 454,321 453.600,328 C453.300,333 452,338 450,342 C448,345.500 445,347.500 442,349.200" stroke-width="1.500"/>
<path d="M442,349 C441.500,352 440.500,354.500 439,357" stroke-width="3"/>
<path d="M442,352.500 C446,355 450,356.200 454.800,356.800 C461,358 467,359.800 473.500,359.600 C478.500,359.400 483.500,357.800 487.500,355.600 C491,353.500 493.500,351 495,348.600" stroke-width="1.400"/>
</g>
<!-- artery -->
<path d="M398.100,365.500 L439,357 C443,356.200 447,360 446.700,365 L419.200,373.200 Z" fill="#e31e25"/>
<!-- vein squiggle -->
<path d="M500.400,347 C501.500,350 503,354.500 501.500,356.800 C499,360 492.500,358 489.900,360.300 C487,362.500 485.500,364 486.400,365.500 C487.500,368 493,368.500 492.200,370.800 C491,374 483,374.500 480.500,376.600 C478,378.500 478,380.500 478.200,382.500" fill="none" stroke="#8f2590" stroke-width="2.800" stroke-linecap="round"/>
<path d="M467.700,396.500 L486,380.500 C489,378.500 494,382 494.500,386 L479.300,401 Z" fill="#8f2590"/>
<!-- follicle -->
<path d="M453,186 L456.500,188.800 L461.800,191.800 C466,208 471,225 475.500,241.600 C479,255 483,268 488,281 C493,293 501,302 506.200,311.800 C509,318 509.500,325 508.500,330.500 C507.500,336 506.500,339 505,342 C503,345.500 499,346.800 495.700,346.800 C492,346.800 489,345 487.500,342 C485,338 482.500,334 482.800,330.500 C482.800,324 483.500,318 482.800,311.800 C481.500,302 478.500,293 475.800,283.700 C472,271 468.500,258 465.300,245 C461.500,228 457,207 453,186 Z" fill="url(#mFol)"/>
<!-- hair -->
<path d="M407.900,67.900 C417.500,91 427.500,116 436.400,140 C443,158 449.600,177 455.600,195.200 C461.800,215 467.300,235 472.300,255 C475.300,267 478,278 480.800,289 C483,298 486.500,306 487.800,314 C488.800,321 487,328 487.300,333 C487.600,337 488.300,339.500 490,339.500 C491.500,339.500 492,337 492.200,334.500 C492.400,331.500 492.800,329.300 493.800,329.300 C494.800,329.300 495.200,331.500 495.600,334.500 C496,337.500 496.500,340.500 498.500,340.500 C500,340.500 500.800,337 500.800,333 C500.800,327 499,320 496,313 C493,305 488,297 484.300,288 C480.600,278 477,266 474,254 C469,234 463.300,214 457,194.500 C451,176 444.300,157.500 437.500,139.500 C428.200,115 418.200,91 407.900,67.900 Z" fill="#0c0a0a"/>

</g>
<g id="right-diagram">
<defs>
<linearGradient id="rWallTop" x1="743.7" y1="0" x2="770" y2="0" gradientUnits="userSpaceOnUse"><stop offset="0" stop-color="#2a2a2a"/><stop offset="0.35" stop-color="#505050"/><stop offset="0.58" stop-color="#707070"/><stop offset="0.62" stop-color="#888888"/><stop offset="0.8" stop-color="#a0a0a0"/><stop offset="1" stop-color="#aeaeae"/></linearGradient>
<linearGradient id="rWallLow" x1="0" y1="0" x2="1" y2="0"><stop offset="0" stop-color="#5c5c5c"/><stop offset="0.25" stop-color="#8e8e8e"/><stop offset="0.5" stop-color="#a6a6a6"/><stop offset="0.8" stop-color="#8c8c8c"/><stop offset="1" stop-color="#6e6e6e"/></linearGradient>
<linearGradient id="rStripe" x1="0" y1="0" x2="1" y2="0"><stop offset="0" stop-color="#c9c9c9"/><stop offset="0.5" stop-color="#b4b4b4"/><stop offset="1" stop-color="#8e8e8e"/></linearGradient>
<linearGradient id="rInt" x1="770" y1="0" x2="960" y2="0" gradientUnits="userSpaceOnUse"><stop offset="0" stop-color="#050505"/><stop offset="0.12" stop-color="#0d0d0d"/><stop offset="0.3" stop-color="#5a5a5a"/><stop offset="0.5" stop-color="#6a6a6a"/><stop offset="0.68" stop-color="#565656"/><stop offset="0.85" stop-color="#101010"/><stop offset="1" stop-color="#050505"/></linearGradient>
<linearGradient id="rIntV" x1="0" y1="90" x2="0" y2="290" gradientUnits="userSpaceOnUse"><stop offset="0" stop-color="#7a7a7a" stop-opacity="0"/><stop offset="0.25" stop-color="#808080" stop-opacity="0.8"/><stop offset="0.5" stop-color="#8a8a8a" stop-opacity="0.95"/><stop offset="1" stop-color="#909090" stop-opacity="0.95"/></linearGradient>
<linearGradient id="rIntVR" x1="0" y1="90" x2="0" y2="290" gradientUnits="userSpaceOnUse"><stop offset="0" stop-color="#444" stop-opacity="0"/><stop offset="0.5" stop-color="#444" stop-opacity="0.35"/><stop offset="1" stop-color="#4a4a4a" stop-opacity="0.8"/></linearGradient>
<linearGradient id="rMaskG" x1="0" y1="195" x2="0" y2="262" gradientUnits="userSpaceOnUse"><stop offset="0" stop-color="#000"/><stop offset="1" stop-color="#fff"/></linearGradient>
<mask id="rMetalMask" maskUnits="userSpaceOnUse" x="760" y="185" width="210" height="120"><rect x="760" y="185" width="210" height="120" fill="url(#rMaskG)"/></mask>
<linearGradient id="rMetal" x1="815" y1="0" x2="915" y2="0" gradientUnits="userSpaceOnUse"><stop offset="0" stop-color="#7e7e7e"/><stop offset="0.2" stop-color="#a6a6a6"/><stop offset="0.38" stop-color="#f3eee8"/><stop offset="0.5" stop-color="#c2c2c2"/><stop offset="0.72" stop-color="#8a8a8a"/><stop offset="1" stop-color="#5a5a5a"/></linearGradient>
<linearGradient id="rTubeW" x1="827.7" y1="0" x2="902.3" y2="0" gradientUnits="userSpaceOnUse"><stop offset="0" stop-color="#87552a"/><stop offset="0.1" stop-color="#a57440"/><stop offset="0.24" stop-color="#c39863"/><stop offset="0.76" stop-color="#c9a070"/><stop offset="0.9" stop-color="#a57440"/><stop offset="1" stop-color="#87552a"/></linearGradient>
<linearGradient id="rTubeN" x1="840.9" y1="0" x2="889.1" y2="0" gradientUnits="userSpaceOnUse"><stop offset="0" stop-color="#93612f"/><stop offset="0.14" stop-color="#bd8f5c"/><stop offset="0.86" stop-color="#bd8f5c"/><stop offset="1" stop-color="#93612f"/></linearGradient>
<linearGradient id="rChan" x1="846" y1="0" x2="884" y2="0" gradientUnits="userSpaceOnUse"><stop offset="0" stop-color="#e9d6be"/><stop offset="0.07" stop-color="#e9d6be"/><stop offset="0.08" stop-color="#c39863"/><stop offset="0.3" stop-color="#dcbc98"/><stop offset="0.45" stop-color="#f6ebe0"/><stop offset="0.53" stop-color="#ffffff"/><stop offset="0.62" stop-color="#f3e4d4"/><stop offset="0.78" stop-color="#d9b690"/><stop offset="0.92" stop-color="#c39863"/><stop offset="0.93" stop-color="#e9d6be"/><stop offset="1" stop-color="#e9d6be"/></linearGradient>
<linearGradient id="rChan2" x1="845" y1="0" x2="887" y2="0" gradientUnits="userSpaceOnUse"><stop offset="0" stop-color="#d8bc9c"/><stop offset="0.1" stop-color="#ecdac4"/><stop offset="0.11" stop-color="#c59d6f"/><stop offset="0.3" stop-color="#dcbf9c"/><stop offset="0.44" stop-color="#f6ebdf"/><stop offset="0.51" stop-color="#ffffff"/><stop offset="0.6" stop-color="#f0dfcc"/><stop offset="0.75" stop-color="#d9b993"/><stop offset="0.89" stop-color="#c59d6f"/><stop offset="0.9" stop-color="#ecdac4"/><stop offset="1" stop-color="#d8bc9c"/></linearGradient>
<linearGradient id="rTan" x1="0" y1="0" x2="1" y2="0"><stop offset="0" stop-color="#b98a58"/><stop offset="0.5" stop-color="#cba173"/><stop offset="1" stop-color="#c3976a"/></linearGradient>
<linearGradient id="rWallDark" x1="0" y1="0" x2="1" y2="0"><stop offset="0" stop-color="#1e1e1e" stop-opacity="0.5"/><stop offset="0.5" stop-color="#2a2a2a" stop-opacity="0.42"/><stop offset="0.8" stop-color="#333" stop-opacity="0.3"/><stop offset="1" stop-color="#333" stop-opacity="0.22"/></linearGradient>
<linearGradient id="rWedge" x1="745" y1="0" x2="789" y2="0" gradientUnits="userSpaceOnUse"><stop offset="0" stop-color="#9c9c9c"/><stop offset="0.5" stop-color="#868686"/><stop offset="1" stop-color="#6a6a6a"/></linearGradient>
<linearGradient id="rWallShade" x1="0" y1="188" x2="0" y2="265" gradientUnits="userSpaceOnUse"><stop offset="0" stop-color="#141414" stop-opacity="0.62"/><stop offset="0.4" stop-color="#1c1c1c" stop-opacity="0.4"/><stop offset="1" stop-color="#222" stop-opacity="0"/></linearGradient>
<g id="rWall">
<!-- whole wall silhouette -->
<path d="M743.7,13 L770,13 C770.300,25 770.600,35 771.100,42.400 C772,52 773.500,60 774.900,67.300 C776.200,76 777.200,85 778.600,92.200 C780,100 782.500,107 784.800,112.100 C787,118 789.500,123 791,127 L792.800,135 L829.800,344.500 L830,349.500 C826,348 822,345.500 818,343 C814,340.500 812,339 809.900,337 C806,334 803.500,332 802,330 C800,327 799.300,325 798.600,322.100 L764.900,134.900 C764.300,133 763.600,132 763,130.600 C762.300,126 761.500,121 760.500,117 C758.500,111.500 756.500,107.500 753.800,103.800 C749.500,98.500 745.500,93 744.300,86 C743.800,83.500 743.700,80 743.700,77 Z" fill="url(#rWallTop)"/>
<!-- lower wall body -->
<path d="M764.900,134.900 L785.300,135 L822.300,344.500 C818,343 814,340.500 809.900,337 C806,334 803.500,332 802,330 C800,327 799.300,325 798.600,322.100 Z" fill="url(#rWallLow)"/>
<!-- shoulder wedge -->
<path d="M744.500,87 C752,100 768,115 785.500,122.500 L788.600,137.400 C778,135 768,128 761.200,117.500 C759,111 755.500,106 753.800,103.800 C749.500,98.500 745.800,93 744.500,87 Z" fill="url(#rWedge)"/>
<!-- purple ring -->
<path d="M761.200,117.500 C766,125 776,133.500 788.600,137.400 L789.800,144.400 C777,141 767.500,133 762.800,125 Z" fill="#9b2d9c"/>
<!-- tan band -->
<path d="M762.800,125 C767.500,133 777,141 789.800,144.400 L799.800,201 C792,200.500 783,195 776.200,185 Z" fill="url(#rTan)"/>
<path d="M776.200,185 C783,195 792,200.500 799.800,201 L808.300,265 L788.300,265 Z" fill="url(#rWallShade)"/>
<!-- inner light stripe -->
<path d="M770,13 C770.300,25 770.600,35 771.100,42.400 C772,52 773.500,60 774.900,67.300 C776.200,76 777.200,85 778.600,92.200 C780,100 782.500,107 784.800,112.100 C787,118 789.500,123 791,127 L792.800,135 L829.800,344.500 L830,349.500 C827.500,348.500 825,347 822.300,345 L785.300,135 C783.500,128 781,121 778.800,115 C776.500,109 774.200,100 773,92.500 C771.800,85 770.800,76 769.300,67.500 C768,60 766.500,52 765.600,42.500 C765.200,35 764.800,25 764.500,13 Z" fill="url(#rStripe)"/>
</g>
<clipPath id="rIntClip"><path d="M769,13 L961,13 L959,60 L950,100 L938,135 L901,345 L865,345 L829,345 L792,135 L780,100 L771,60 Z"/></clipPath>
</defs>
<!-- skin -->
<rect x="712.7" y="231.900" width="304.100" height="199.400" fill="#efbd8c"/>
<g fill="none" stroke="#e0a064" stroke-width="1.200">
<path d="M738,232 C743,237 747,241 750.300,245.600 C753,249 756,252 756.500,255.900 C757,260 756,263.500 754.400,266.200 C750,271 743,273.500 736,274.400 C728,276 720,277.500 712.400,278.600"/>
<path d="M766.800,232 C769,236 771.500,240 773,243.500 C774.500,247 775,250.500 775,253.800"/>
<path d="M756.500,255.900 C762,253 769,252.500 775,253.800 C780,255.500 784,259.500 787.400,264"/>
<path d="M754.400,266.200 C759,270 763,275 766.800,280.600 C771,286 776,291 781.200,295"/>
<path d="M736,274.400 C729,280 724,287 721.500,295 C719,303 718.500,312 719.400,319.800 C721,326 726,331 731.800,334.200"/>
<path d="M712.400,338.300 C719,337 725,335.500 731.800,334.200 C737,333.500 742,333.800 746.200,334.200"/>
<path d="M731.800,334.200 C729,340 727.500,346 727.700,352.700 C728,360 730,366 733.800,371.300 C737,375.500 741,378.500 746.200,379.500 C754,380.500 763,379 770.900,377.500 L779,375.400"/>
<path d="M712.400,383.600 C722,384 732,383 746.200,379.500"/>
<path d="M746.200,379.500 C750,386 752,394 752.400,402.200 C752.500,412 749,422 746.200,431.300"/>
<path d="M770.900,377.500 C776,382 782,386 787.400,389.800 C793,394 798,400 801.800,406.300 C804,414 804.500,423 803.900,431.300"/>
<path d="M801.800,406.300 C810,405 820,405.500 828.600,406.300 C834,407 840,408.500 845,410.400 C853,413 861,415 869,416.600 C877,417.500 884,415 891,412.500 C902,409 914,407 926,406.300 C936,405.500 946,404 954.800,402.200"/>
<path d="M891,412.500 C890.500,419 889.500,425 888.800,431.300"/>
<path d="M926,406.300 C929,411 931,416 932,420.700 C933,424 933.500,428 934,431.300"/>
<path d="M956.800,387.800 C955,392 954,397 954.800,402.200 C962,402.500 971,400.500 979.500,398"/>
<path d="M983.600,381.600 C981,387 979.500,392 979.500,398 C980,405 983,412 983.600,418.700 C983.500,423 981,427 979.500,431.300"/>
<path d="M979.500,398 C986,398 993,397.500 1000,396 C1006,394.500 1011,392 1016.600,389.800"/>
<path d="M985.700,344.500 C990,346.500 995,348 1000,348.600 C1006,349 1011,348 1016.600,346.500"/>
<path d="M1000,348.600 C1000,354 999.500,360 998,365 C995,372 989,377.500 983.600,381.600"/>
<path d="M971.200,301 C976,298 982,295 987.700,293 C993,291 999,288.500 1004,286.800 C1008,286 1012,288.500 1016.600,291"/>
<path d="M946.500,232 C948,236 950,239 952.700,241.500 C957,244.500 962,247 967,249.700 C977,255 987,262 996,270.300 C1003,277 1010,284 1016.600,291"/>
<path d="M967,249.700 C965,245 963.500,241 963,237 C970,234 977,233 983.600,232"/>
</g>
<!-- pink new skin blob -->
<path d="M747.600,334.800 C748,328 751,323 755,320 C760,314 765,309 772,305 C779,300 786,296.500 793.500,294.400 C810,290 830,286 865,285 C900,285 922,287 938,290 C946,291.500 953,292.500 959,294.400 C966,297 972,302 976,307 C980,311.500 983,316 984,322 C986,330 989,339 989,347.500 C989.500,355 989,363 987,369 C985,375 981,378 976,379.400 C968,382 960,383 951,383.700 C941,384.500 931,385 921,385.800 C913,386.500 906,388 900,390 C894,392.500 891,397 887,400.700 C882,404.500 876,406.500 870,407 C862,408 853,408 844.500,407 C834,406 824,404 815,400.700 C807,398 800,394 793.500,390 C787,386 781,380.500 776.500,375 C772,370 767.500,365 763.800,360.300 C759,355 755,351 751,347.500 C748.500,344 747.500,339 747.600,334.800 Z" fill="#fbe0ec"/>
<!-- interior -->
<g clip-path="url(#rIntClip)">
<rect x="765" y="13" width="200" height="340" fill="url(#rInt)"/>
<rect x="765" y="90" width="100" height="260" fill="url(#rIntV)"/>
<rect x="865" y="90" width="100" height="260" fill="url(#rIntVR)"/>
<rect x="765" y="190" width="200" height="110" fill="url(#rMetal)" mask="url(#rMetalMask)"/>
</g>
<!-- pink visible inside bottom opening -->
<path d="M821,292.200 C832,284 848,278.500 865,278.500 C882,278.500 898,284 909,292.200 L901,345 L829,345 Z" fill="#fbe0ec"/>
<!-- tubes -->
<path d="M827.700,13 L902.300,13 L902.300,118 C902.300,126 896,128 891,131 C889.500,132.500 889.100,134 889.100,137 L889.100,249.500 C889.100,252 888,253 886.300,253 C884.500,253 883.500,252 883.500,249.500 L883.500,247 C880,240 873.500,236.200 866,236.200 C858.500,236.200 852,240 848.500,247 L848.500,249.500 C848.500,252 847.500,253 845.700,253 C844,253 840.900,252 840.900,249.500 L840.900,137 C840.900,134 840.500,132.500 839,131 C834,128 827.700,126 827.700,118 Z" fill="url(#rTubeW)"/>
<path d="M840.900,128 L889.100,128 L889.100,249.500 C889.100,252 888,253 886.300,253 C884.500,253 883.500,252 883.500,249.500 L883.500,247 C880,240 873.500,236.200 866,236.200 C858.500,236.200 852,240 848.500,247 L848.500,249.500 C848.500,252 847.500,253 845.700,253 C844,253 840.900,252 840.900,249.500 Z" fill="url(#rTubeN)"/>
<!-- upper channel -->
<rect x="846" y="13" width="38" height="97" fill="url(#rChan)"/>
<!-- lower inner tube -->
<path d="M845,112 C845,107.500 854,105 866,105 C878,105 887,107.500 887,112 L887,250 L883.500,250 L883.500,247 C880,240 873.500,236.200 866,236.200 C858.500,236.200 852,240 848.500,247 L848.500,250 L845,250 Z" fill="url(#rChan2)"/>
<path d="M845,112 C845,107.500 854,105 866,105 C878,105 887,107.500 887,112 L887,118 C887,113.500 878,110.500 866,110.500 C854,110.500 845,113.500 845,118 Z" fill="#9a6836"/>
<path d="M845,118 C845,113.500 854,110.500 866,110.500 C878,110.500 887,113.500 887,118 L887,121.500 C887,117 878,114 866,114 C854,114 845,117 845,121.500 Z" fill="#c39a6c" opacity="0.8"/>
<circle cx="858.5" cy="25.2" r="2.3" fill="#8fd3f2"/>
<circle cx="875.4" cy="17.5" r="2.3" fill="#8fd3f2"/>
<circle cx="855" cy="60.3" r="2.3" fill="#8fd3f2"/>
<circle cx="873.7" cy="54.9" r="2.3" fill="#8fd3f2"/>
<circle cx="857.4" cy="93.5" r="2.3" fill="#8fd3f2"/>
<circle cx="874.2" cy="93.5" r="2.3" fill="#8fd3f2"/>
<circle cx="853.8" cy="168.5" r="2.3" fill="#8fd3f2"/>
<circle cx="856.4" cy="205" r="2.3" fill="#8fd3f2"/>
<circle cx="874.5" cy="156" r="2.3" fill="#8fd3f2"/>
<circle cx="875.3" cy="178.8" r="2.3" fill="#8fd3f2"/>
<circle cx="875.3" cy="223.9" r="2.3" fill="#8fd3f2"/>
<polygon points="803.5,38.1 809.5,36.0 815.5,37.1 818.5,42.3 816.2,45.8 813.2,46.5 811.0,50.0 806.5,49.3 805.8,44.4 803.5,41.6" fill="#f4c59d" stroke="#f4c59d" stroke-width="1.8" stroke-linejoin="round"/>
<polygon points="787.0,70.3 792.0,75.9 799.0,78.7 804.0,84.3 806.0,92.7 802.0,94.1 798.0,98.3 792.0,96.9 790.0,87.1 786.0,81.5" fill="#f4c59d" stroke="#f4c59d" stroke-width="1.8" stroke-linejoin="round"/>
<polygon points="806.3,153.5 811.5,152.2 815.3,154.7 819.3,156.6 817.4,163.1 814.3,164.8 812.4,167.6 807.1,165.4 807.1,161.3 804.6,159.3" fill="#f4c59d" stroke="#f4c59d" stroke-width="1.8" stroke-linejoin="round"/>
<polygon points="821.4,209.2 824.8,212.6 829.2,213.2 827.1,216.7 829.2,221.1 824.1,220.6 820.2,222.7 818.8,218.4 814.6,215.1 820.0,213.5" fill="#f4c59d" stroke="#f4c59d" stroke-width="1.8" stroke-linejoin="round"/>
<polygon points="831.8,260.8 833.3,266.2 836.8,268.3 833.3,272.2 833.1,278.4 828.9,276.1 824.5,277.6 825.2,271.7 823.1,266.2 828.6,265.8" fill="#f4c59d" stroke="#f4c59d" stroke-width="1.8" stroke-linejoin="round"/>
<polygon points="935.1,63.2 938.9,59.4 943.5,59.7 947.8,59.4 949.5,66.0 947.6,69.0 947.3,72.3 941.7,73.1 939.6,69.6 936.5,69.1" fill="#f4c59d" stroke="#f4c59d" stroke-width="1.8" stroke-linejoin="round"/>
<polygon points="922.3,98.7 916.3,100.9 910.3,99.7 907.3,94.2 909.5,90.4 912.5,89.7 914.8,85.9 919.3,86.7 920.0,91.9 922.3,94.9" fill="#f4c59d" stroke="#f4c59d" stroke-width="1.8" stroke-linejoin="round"/>
<polygon points="919.8,157.2 915.0,161.3 908.9,162.3 904.2,158.1 905.0,153.8 907.6,152.0 908.4,147.8 912.9,146.9 915.4,151.6 918.6,153.6" fill="#f4c59d" stroke="#f4c59d" stroke-width="1.8" stroke-linejoin="round"/>
<polygon points="906.3,199.4 911.6,199.9 914.4,203.6 917.4,206.7 913.4,212.2 909.9,212.7 907.2,214.6 902.9,210.8 904.3,206.9 902.7,204.2" fill="#f4c59d" stroke="#f4c59d" stroke-width="1.8" stroke-linejoin="round"/>
<polygon points="902.7,224.3 904.8,223.4 906.6,224.1 908.4,224.6 908.1,227.3 906.9,228.2 906.3,229.4 903.9,228.9 903.6,227.3 902.4,226.7" fill="#f4c59d" stroke="#f4c59d" stroke-width="1.8" stroke-linejoin="round"/>
<polygon points="900.5,237.6 904.1,240.4 908.5,241.3 912.0,244.2 914.1,249.0 911.9,250.2 910.0,253.2 906.3,253.0 904.0,247.3 901.1,244.4" fill="#f4c59d" stroke="#f4c59d" stroke-width="1.8" stroke-linejoin="round"/>
<polygon points="895.8,263.2 899.5,266.6 904.1,267.2 901.9,270.7 904.1,275.1 898.7,274.6 894.5,276.7 893.0,272.4 888.6,269.1 894.3,267.5" fill="#f4c59d" stroke="#f4c59d" stroke-width="1.8" stroke-linejoin="round"/>
<polygon points="892.5,299.7 896.9,297.3 901.3,298.6 903.5,304.5 901.9,308.5 899.6,309.3 898.0,313.3 894.7,312.5 894.1,306.9 892.5,303.7" fill="#f4c59d" stroke="#f4c59d" stroke-width="1.8" stroke-linejoin="round"/>
<polygon points="837.0,340.8 840.3,346.0 845.2,347.7 842.0,352.0 843.3,358.3 837.5,356.6 832.4,358.6 831.8,352.6 827.7,347.3 834.4,346.3" fill="#f4c59d" stroke="#f4c59d" stroke-width="1.8" stroke-linejoin="round"/>
<polygon points="830.4,363.2 830.6,368.1 833.3,371.2 829.4,372.9 827.9,377.7 824.5,374.2 820.3,373.6 822.2,369.2 821.5,364.0 826.5,365.9" fill="#f4c59d" stroke="#f4c59d" stroke-width="1.8" stroke-linejoin="round"/>
<polygon points="893.2,371.3 886.0,371.1 880.1,367.7 878.8,361.3 882.4,358.6 885.9,359.1 889.6,356.5 894.1,358.9 893.1,364.1 894.5,367.8" fill="#f4c59d" stroke="#f4c59d" stroke-width="1.8" stroke-linejoin="round"/>
<polygon points="814.2,19.8 815.6,19.2 816.8,19.7 818.0,20.0 817.8,21.8 817.0,22.4 816.6,23.2 815.0,22.9 814.8,21.8 814.0,21.4" fill="#f4c59d" stroke="#f4c59d" stroke-width="1.8" stroke-linejoin="round"/>
<polygon points="818.4,78.8 819.8,78.2 821.0,78.7 822.2,79.0 822.0,80.8 821.2,81.4 820.8,82.2 819.2,81.9 819.0,80.8 818.2,80.4" fill="#f4c59d" stroke="#f4c59d" stroke-width="1.8" stroke-linejoin="round"/>
<polygon points="949.1,16.6 950.5,16.0 951.7,16.5 952.9,16.8 952.7,18.6 951.9,19.2 951.5,20.0 949.9,19.7 949.7,18.6 948.9,18.2" fill="#f4c59d" stroke="#f4c59d" stroke-width="1.8" stroke-linejoin="round"/>
<polygon points="911.8,35.2 913.2,34.6 914.4,35.1 915.6,35.4 915.4,37.2 914.6,37.8 914.2,38.6 912.6,38.3 912.4,37.2 911.6,36.8" fill="#f4c59d" stroke="#f4c59d" stroke-width="1.8" stroke-linejoin="round"/>
<polygon points="828.6,198.3 830.0,197.7 831.2,198.2 832.4,198.5 832.2,200.3 831.4,200.9 831.0,201.7 829.4,201.4 829.2,200.3 828.4,199.9" fill="#f4c59d" stroke="#f4c59d" stroke-width="1.8" stroke-linejoin="round"/>
<g transform="translate(792.8,22.4)"><path d="M-2.8,0H2.8M0,-2.8V2.8M-2.0,-2.0L2.0,2.0M-2.0,2.0L2.0,-2.0" stroke="#43b3e8" stroke-width="1.1" fill="none"/><circle r="1.5" fill="#7fd0f5"/></g>
<g transform="translate(777.8,36.1)"><path d="M-2.8,0H2.8M0,-2.8V2.8M-2.0,-2.0L2.0,2.0M-2.0,2.0L2.0,-2.0" stroke="#43b3e8" stroke-width="1.1" fill="none"/><circle r="1.5" fill="#7fd0f5"/></g>
<g transform="translate(811.5,28.7)"><path d="M-2.8,0H2.8M0,-2.8V2.8M-2.0,-2.0L2.0,2.0M-2.0,2.0L2.0,-2.0" stroke="#43b3e8" stroke-width="1.1" fill="none"/><circle r="1.5" fill="#7fd0f5"/></g>
<g transform="translate(816.4,52.3)"><path d="M-2.8,0H2.8M0,-2.8V2.8M-2.0,-2.0L2.0,2.0M-2.0,2.0L2.0,-2.0" stroke="#43b3e8" stroke-width="1.1" fill="none"/><circle r="1.5" fill="#7fd0f5"/></g>
<g transform="translate(797.3,58.5)"><path d="M-2.8,0H2.8M0,-2.8V2.8M-2.0,-2.0L2.0,2.0M-2.0,2.0L2.0,-2.0" stroke="#43b3e8" stroke-width="1.1" fill="none"/><circle r="1.5" fill="#7fd0f5"/></g>
<g transform="translate(812.2,77.2)"><path d="M-2.8,0H2.8M0,-2.8V2.8M-2.0,-2.0L2.0,2.0M-2.0,2.0L2.0,-2.0" stroke="#43b3e8" stroke-width="1.1" fill="none"/><circle r="1.5" fill="#7fd0f5"/></g>
<g transform="translate(804.7,109.6)"><path d="M-2.8,0H2.8M0,-2.8V2.8M-2.0,-2.0L2.0,2.0M-2.0,2.0L2.0,-2.0" stroke="#43b3e8" stroke-width="1.1" fill="none"/><circle r="1.5" fill="#7fd0f5"/></g>
<g transform="translate(913.6,23.7)"><path d="M-2.8,0H2.8M0,-2.8V2.8M-2.0,-2.0L2.0,2.0M-2.0,2.0L2.0,-2.0" stroke="#43b3e8" stroke-width="1.1" fill="none"/><circle r="1.5" fill="#7fd0f5"/></g>
<g transform="translate(932.2,17.0)"><path d="M-2.8,0H2.8M0,-2.8V2.8M-2.0,-2.0L2.0,2.0M-2.0,2.0L2.0,-2.0" stroke="#43b3e8" stroke-width="1.1" fill="none"/><circle r="1.5" fill="#7fd0f5"/></g>
<g transform="translate(947.2,30.7)"><path d="M-2.8,0H2.8M0,-2.8V2.8M-2.0,-2.0L2.0,2.0M-2.0,2.0L2.0,-2.0" stroke="#43b3e8" stroke-width="1.1" fill="none"/><circle r="1.5" fill="#7fd0f5"/></g>
<g transform="translate(912.3,47.3)"><path d="M-2.8,0H2.8M0,-2.8V2.8M-2.0,-2.0L2.0,2.0M-2.0,2.0L2.0,-2.0" stroke="#43b3e8" stroke-width="1.1" fill="none"/><circle r="1.5" fill="#7fd0f5"/></g>
<g transform="translate(942.7,48.6)"><path d="M-2.8,0H2.8M0,-2.8V2.8M-2.0,-2.0L2.0,2.0M-2.0,2.0L2.0,-2.0" stroke="#43b3e8" stroke-width="1.1" fill="none"/><circle r="1.5" fill="#7fd0f5"/></g>
<g transform="translate(916.8,72.2)"><path d="M-2.8,0H2.8M0,-2.8V2.8M-2.0,-2.0L2.0,2.0M-2.0,2.0L2.0,-2.0" stroke="#43b3e8" stroke-width="1.1" fill="none"/><circle r="1.5" fill="#7fd0f5"/></g>
<g transform="translate(931.7,92.7)"><path d="M-2.8,0H2.8M0,-2.8V2.8M-2.0,-2.0L2.0,2.0M-2.0,2.0L2.0,-2.0" stroke="#43b3e8" stroke-width="1.1" fill="none"/><circle r="1.5" fill="#7fd0f5"/></g>
<g transform="translate(911.0,127.0)"><path d="M-2.8,0H2.8M0,-2.8V2.8M-2.0,-2.0L2.0,2.0M-2.0,2.0L2.0,-2.0" stroke="#43b3e8" stroke-width="1.1" fill="none"/><circle r="1.5" fill="#7fd0f5"/></g>
<g transform="translate(807.3,138.6)"><path d="M-2.8,0H2.8M0,-2.8V2.8M-2.0,-2.0L2.0,2.0M-2.0,2.0L2.0,-2.0" stroke="#43b3e8" stroke-width="1.1" fill="none"/><circle r="1.5" fill="#7fd0f5"/></g>
<g transform="translate(826.0,142.4)"><path d="M-2.8,0H2.8M0,-2.8V2.8M-2.0,-2.0L2.0,2.0M-2.0,2.0L2.0,-2.0" stroke="#43b3e8" stroke-width="1.1" fill="none"/><circle r="1.5" fill="#7fd0f5"/></g>
<g transform="translate(813.5,184.7)"><path d="M-2.8,0H2.8M0,-2.8V2.8M-2.0,-2.0L2.0,2.0M-2.0,2.0L2.0,-2.0" stroke="#43b3e8" stroke-width="1.1" fill="none"/><circle r="1.5" fill="#7fd0f5"/></g>
<g transform="translate(926.5,146.9)"><path d="M-2.8,0H2.8M0,-2.8V2.8M-2.0,-2.0L2.0,2.0M-2.0,2.0L2.0,-2.0" stroke="#43b3e8" stroke-width="1.1" fill="none"/><circle r="1.5" fill="#7fd0f5"/></g>
<g transform="translate(900.3,172.3)"><path d="M-2.8,0H2.8M0,-2.8V2.8M-2.0,-2.0L2.0,2.0M-2.0,2.0L2.0,-2.0" stroke="#43b3e8" stroke-width="1.1" fill="none"/><circle r="1.5" fill="#7fd0f5"/></g>
<g transform="translate(864.6,253.6)"><path d="M-2.8,0H2.8M0,-2.8V2.8M-2.0,-2.0L2.0,2.0M-2.0,2.0L2.0,-2.0" stroke="#43b3e8" stroke-width="1.1" fill="none"/><circle r="1.5" fill="#7fd0f5"/></g>
<g transform="translate(878.8,266.0)"><path d="M-2.8,0H2.8M0,-2.8V2.8M-2.0,-2.0L2.0,2.0M-2.0,2.0L2.0,-2.0" stroke="#43b3e8" stroke-width="1.1" fill="none"/><circle r="1.5" fill="#7fd0f5"/></g>
<g transform="translate(857.7,304.7)"><path d="M-2.8,0H2.8M0,-2.8V2.8M-2.0,-2.0L2.0,2.0M-2.0,2.0L2.0,-2.0" stroke="#43b3e8" stroke-width="1.1" fill="none"/><circle r="1.5" fill="#7fd0f5"/></g>
<g transform="translate(875.9,307.2)"><path d="M-2.8,0H2.8M0,-2.8V2.8M-2.0,-2.0L2.0,2.0M-2.0,2.0L2.0,-2.0" stroke="#43b3e8" stroke-width="1.1" fill="none"/><circle r="1.5" fill="#7fd0f5"/></g>
<g transform="translate(871.6,327.0)"><path d="M-2.8,0H2.8M0,-2.8V2.8M-2.0,-2.0L2.0,2.0M-2.0,2.0L2.0,-2.0" stroke="#43b3e8" stroke-width="1.1" fill="none"/><circle r="1.5" fill="#7fd0f5"/></g>
<g transform="translate(847.2,332.0)"><path d="M-2.8,0H2.8M0,-2.8V2.8M-2.0,-2.0L2.0,2.0M-2.0,2.0L2.0,-2.0" stroke="#43b3e8" stroke-width="1.1" fill="none"/><circle r="1.5" fill="#7fd0f5"/></g>
<g transform="translate(863.4,345.8)"><path d="M-2.8,0H2.8M0,-2.8V2.8M-2.0,-2.0L2.0,2.0M-2.0,2.0L2.0,-2.0" stroke="#43b3e8" stroke-width="1.1" fill="none"/><circle r="1.5" fill="#7fd0f5"/></g>
<g transform="translate(884.6,340.3)"><path d="M-2.8,0H2.8M0,-2.8V2.8M-2.0,-2.0L2.0,2.0M-2.0,2.0L2.0,-2.0" stroke="#43b3e8" stroke-width="1.1" fill="none"/><circle r="1.5" fill="#7fd0f5"/></g>
<polygon points="863.3,35.0 863.3,72.0 860.0,72.0 865.0,83.0 870.0,72.0 866.7,72.0 866.7,35.0" fill="#d7202a"/>
<polygon points="862.9,117.5 862.9,155.0 859.6,155.0 864.6,166.0 869.6,155.0 866.3,155.0 866.3,117.5" fill="#d7202a"/>
<polygon points="862.9,177.2 862.9,217.3 859.6,217.3 864.6,228.3 869.6,217.3 866.3,217.3 866.3,177.2" fill="#d7202a"/>
<polygon points="861.2,264.0 861.2,282.5 857.9,282.5 862.9,293.5 867.9,282.5 864.6,282.5 864.6,264.0" fill="#d7202a"/>
<polygon points="802.5,62.1 800.2,45.8 803.2,45.4 797.3,36.1 794.2,46.6 797.2,46.2 799.5,62.5" fill="#d7202a"/>
<polygon points="813.7,137.8 811.8,123.0 814.7,122.6 809.0,113.3 805.8,123.8 808.7,123.4 810.7,138.2" fill="#d7202a"/>
<polygon points="824.5,196.0 822.2,179.7 825.1,179.3 819.2,170.0 816.2,180.5 819.1,180.1 821.5,196.4" fill="#d7202a"/>
<polygon points="833.8,253.5 832.3,237.3 835.2,237.0 829.8,227.5 826.3,237.9 829.2,237.6 830.8,253.7" fill="#d7202a"/>
<polygon points="845.0,319.4 843.2,303.3 846.1,302.9 840.5,293.5 837.2,303.9 840.1,303.6 842.0,319.8" fill="#d7202a"/>
<polygon points="930.0,65.1 933.2,47.5 936.1,48.0 933.5,37.4 927.3,46.4 930.2,47.0 927.0,64.5" fill="#d7202a"/>
<polygon points="918.3,135.1 920.8,118.6 923.8,119.1 920.8,108.5 914.9,117.7 917.8,118.2 915.3,134.7" fill="#d7202a"/>
<polygon points="908.8,196.1 911.1,181.1 914.0,181.6 911.0,171.0 905.1,180.2 908.0,180.7 905.8,195.7" fill="#d7202a"/>
<polygon points="898.4,253.8 900.5,237.9 903.4,238.3 900.2,227.8 894.5,237.1 897.4,237.5 895.4,253.4" fill="#d7202a"/>
<polygon points="886.4,321.2 889.5,304.8 892.4,305.4 889.9,294.7 883.6,303.7 886.5,304.2 883.4,320.6" fill="#d7202a"/>
<!-- walls -->
<use href="#rWall"/>
<use href="#rWall" transform="translate(1730,0) scale(-1,1)"/>
<path transform="translate(1730,0) scale(-1,1)" d="M776.200,185 C783,195 792,200.500 799.800,201 L805.500,202 L829.800,344.500 L830,349.500 C826,348 822,345.500 818,343 C814,340.500 812,339 809.900,337 C806,334 803.500,332 802,330 C800,327 799.300,325 798.600,322.100 Z" fill="url(#rWallDark)"/>

</g>
<g id="leaders" fill="none" stroke-linecap="butt">
<line x1="31.25" y1="92.3" x2="44" y2="332.7" stroke="#231f20" stroke-width="0.9"/>
<line x1="79.7" y1="79.6" x2="57.5" y2="148.75" stroke="#231f20" stroke-width="0.9"/>
<line x1="140.2" y1="91.9" x2="158" y2="162" stroke="#231f20" stroke-width="0.9"/>
<line x1="189" y1="55.2" x2="228.5" y2="199.5" stroke="#231f20" stroke-width="0.9"/>
<line x1="274.4" y1="55.2" x2="279" y2="118" stroke="#231f20" stroke-width="0.9"/>
<line x1="37" y1="444.8" x2="91.4" y2="322.6" stroke="#231f20" stroke-width="0.9"/>
<line x1="104.5" y1="443.8" x2="129" y2="386.5" stroke="#231f20" stroke-width="0.9"/>
<line x1="170.5" y1="444.4" x2="126.5" y2="346.8" stroke="#231f20" stroke-width="0.9"/>
<line x1="229.7" y1="456" x2="186" y2="337" stroke="#231f20" stroke-width="0.9"/>
<line x1="286.7" y1="443.8" x2="245.7" y2="377" stroke="#231f20" stroke-width="0.9"/>
<line x1="365.3" y1="55.5" x2="407.5" y2="148.5" stroke="#231f20" stroke-width="0.9"/>
<line x1="426.4" y1="55.5" x2="474" y2="131.5" stroke="#231f20" stroke-width="0.9"/>
<line x1="517.5" y1="55.2" x2="523.8" y2="107.9" stroke="#231f20" stroke-width="0.9"/>
<line x1="596.7" y1="55.2" x2="546.8" y2="131.3" stroke="#231f20" stroke-width="0.9"/>
<line x1="664" y1="55.2" x2="546" y2="159.2" stroke="#231f20" stroke-width="0.9"/>
<line x1="367.4" y1="156.2" x2="445.2" y2="169.3" stroke="#231f20" stroke-width="0.9"/>
<line x1="374.4" y1="193.2" x2="399.7" y2="198.2" stroke="#231f20" stroke-width="0.9"/>
<line x1="370.2" y1="219.4" x2="413" y2="214.2" stroke="#231f20" stroke-width="0.9"/>
<line x1="375.2" y1="265" x2="422.7" y2="221.6" stroke="#231f20" stroke-width="0.9"/>
<line x1="377" y1="305.2" x2="441.3" y2="217" stroke="#231f20" stroke-width="0.9"/>
<line x1="356.8" y1="352.2" x2="397" y2="300" stroke="#231f20" stroke-width="0.9"/>
<line x1="362" y1="403.6" x2="433" y2="313" stroke="#231f20" stroke-width="0.9"/>
<line x1="396.3" y1="443.3" x2="432" y2="366.2" stroke="#231f20" stroke-width="0.9"/>
<line x1="432.7" y1="444" x2="487.5" y2="330" stroke="#231f20" stroke-width="0.9"/>
<line x1="469.4" y1="444" x2="478.7" y2="392" stroke="#231f20" stroke-width="0.9"/>
<line x1="511.7" y1="443.3" x2="504" y2="330" stroke="#231f20" stroke-width="0.9"/>
<line x1="591" y1="444.5" x2="580.6" y2="371.6" stroke="#231f20" stroke-width="0.9"/>
<line x1="731.8" y1="94.2" x2="772.7" y2="43.2" stroke="#231f20" stroke-width="0.9"/>
<line x1="731.8" y1="94.2" x2="792.5" y2="79" stroke="#231f20" stroke-width="0.9"/>
<line x1="730.6" y1="147" x2="857.4" y2="93.5" stroke="#231f20" stroke-width="0.9"/>
<line x1="725.2" y1="205" x2="822.9" y2="191.8" stroke="#231f20" stroke-width="0.9"/>
<line x1="834.5" y1="444.1" x2="853" y2="382.4" stroke="#231f20" stroke-width="0.9"/>
</g>
<g id="labels">
<text x="12.7" y="73.7" font-size="11.7" textLength="41.0" lengthAdjust="spacing">Sweat</text>
<text x="13.0" y="85.6" font-size="11.7" textLength="39.5" lengthAdjust="spacing">gland</text>
<text x="69.0" y="73.7" font-size="11.7" textLength="28.0" lengthAdjust="spacing">Hair</text>
<text x="114.5" y="73.7" font-size="11.7" textLength="56.5" lengthAdjust="spacing">Stratum</text>
<text x="112.5" y="85.6" font-size="11.7" textLength="61.5" lengthAdjust="spacing">corneum</text>
<text x="161.3" y="37.2" font-size="11.7" textLength="63.5" lengthAdjust="spacing">New skin</text>
<text x="173.4" y="49.3" font-size="11.7" textLength="35.2" lengthAdjust="spacing">layer</text>
<text x="243.4" y="37.2" font-size="11.7" textLength="62.8" lengthAdjust="spacing">Abrasion</text>
<text x="261.7" y="49.3" font-size="11.7" textLength="28.5" lengthAdjust="spacing">tool</text>
<text x="12.5" y="456.1" font-size="11.7" textLength="51.0" lengthAdjust="spacing">Erector</text>
<text x="13.5" y="468.2" font-size="11.7" textLength="49.0" lengthAdjust="spacing">muscle</text>
<text x="91.8" y="456.1" font-size="11.7" textLength="28.2" lengthAdjust="spacing">Hair</text>
<text x="81.0" y="468.2" font-size="11.7" textLength="51.4" lengthAdjust="spacing">follicle</text>
<text x="136.7" y="456.1" font-size="11.7" textLength="75.3" lengthAdjust="spacing">Sebaceous</text>
<text x="151.4" y="468.2" font-size="11.7" textLength="39.0" lengthAdjust="spacing">gland</text>
<text x="209.6" y="468.2" font-size="11.7" textLength="48.8" lengthAdjust="spacing">Dermis</text>
<text x="243.8" y="456.1" font-size="11.7" textLength="101.2" lengthAdjust="spacing">Subcutaneous</text>
<text x="278.5" y="468.2" font-size="11.7" textLength="34.5" lengthAdjust="spacing">layer</text>
<text x="49.2" y="510.8" font-size="15.1" textLength="192.6" lengthAdjust="spacing">Microdermabrasion</text>
<text x="338.5" y="37.2" font-size="11.7" textLength="55.7" lengthAdjust="spacing">Stratum</text>
<text x="335.6" y="49.3" font-size="11.7" textLength="61.0" lengthAdjust="spacing">corneum</text>
<text x="408.9" y="37.2" font-size="11.7" textLength="55.6" lengthAdjust="spacing">Stratum</text>
<text x="407.9" y="49.3" font-size="11.7" textLength="56.6" lengthAdjust="spacing">lucidum</text>
<text x="492.2" y="37.2" font-size="11.7" textLength="56.2" lengthAdjust="spacing">Stratum</text>
<text x="475.9" y="49.3" font-size="11.7" textLength="84.3" lengthAdjust="spacing">granulosum</text>
<text x="575.6" y="37.2" font-size="11.7" textLength="56.3" lengthAdjust="spacing">Stratum</text>
<text x="570.9" y="49.3" font-size="11.7" textLength="67.3" lengthAdjust="spacing">spinosum</text>
<text x="645.2" y="37.2" font-size="11.7" textLength="56.3" lengthAdjust="spacing">Stratum</text>
<text x="650.6" y="49.3" font-size="11.7" textLength="44.5" lengthAdjust="spacing">basale</text>
<text x="333.2" y="158.5" font-size="11.7" textLength="29.5" lengthAdjust="spacing">Hair</text>
<text x="330.0" y="171.0" font-size="11.7" textLength="35.0" lengthAdjust="spacing">shaft</text>
<text x="321.0" y="195.0" font-size="11.7" textLength="48.7" lengthAdjust="spacing">Dermis</text>
<text x="321.8" y="220.0" font-size="11.7" textLength="41.4" lengthAdjust="spacing">Sweat</text>
<text x="328.0" y="232.2" font-size="11.7" textLength="30.5" lengthAdjust="spacing">duct</text>
<text x="312.1" y="268.5" font-size="11.7" textLength="60.8" lengthAdjust="spacing">Arrector</text>
<text x="335.0" y="279.8" font-size="11.7" textLength="23.0" lengthAdjust="spacing">pili</text>
<text x="297.5" y="310.6" font-size="11.7" textLength="75.5" lengthAdjust="spacing">Sebaceous</text>
<text x="317.5" y="321.8" font-size="11.7" textLength="38.5" lengthAdjust="spacing">gland</text>
<text x="324.0" y="365.0" font-size="11.7" textLength="41.0" lengthAdjust="spacing">Sweat</text>
<text x="324.5" y="380.2" font-size="11.7" textLength="39.0" lengthAdjust="spacing">gland</text>
<text x="334.6" y="418.8" font-size="11.7" textLength="63.4" lengthAdjust="spacing">Capillary</text>
<text x="363.6" y="455.8" font-size="11.7" textLength="44.2" lengthAdjust="spacing">Artery</text>
<text x="416.0" y="455.8" font-size="11.7" textLength="29.0" lengthAdjust="spacing">Hair</text>
<text x="415.2" y="468.0" font-size="11.7" textLength="30.8" lengthAdjust="spacing">bulb</text>
<text x="454.7" y="455.8" font-size="11.7" textLength="29.3" lengthAdjust="spacing">Vein</text>
<text x="500.7" y="455.8" font-size="11.7" textLength="28.1" lengthAdjust="spacing">Hair</text>
<text x="487.8" y="468.0" font-size="11.7" textLength="51.2" lengthAdjust="spacing">follicle</text>
<text x="547.9" y="455.8" font-size="11.7" textLength="100.1" lengthAdjust="spacing">Subcutaneous</text>
<text x="576.9" y="468.0" font-size="11.7" textLength="34.6" lengthAdjust="spacing">layer</text>
<text x="404.9" y="510.6" font-size="15.1" textLength="165.0" lengthAdjust="spacing">Structure of skin</text>
<text x="667.5" y="86.0" font-size="11.7" textLength="61.5" lengthAdjust="spacing">Skin and</text>
<text x="669.9" y="98.1" font-size="11.7" textLength="56.1" lengthAdjust="spacing">particle</text>
<text x="672.2" y="109.8" font-size="11.7" textLength="44.4" lengthAdjust="spacing">debris</text>
<text x="661.7" y="134.5" font-size="11.7" textLength="71.3" lengthAdjust="spacing">Aluminum</text>
<text x="676.9" y="146.2" font-size="11.7" textLength="36.6" lengthAdjust="spacing">oxide</text>
<text x="669.2" y="157.9" font-size="11.7" textLength="56.0" lengthAdjust="spacing">particle</text>
<text x="676.9" y="170.3" font-size="11.7" textLength="35.7" lengthAdjust="spacing">beam</text>
<text x="667.5" y="200.6" font-size="11.7" textLength="53.8" lengthAdjust="spacing">Suction</text>
<text x="679.2" y="212.8" font-size="11.7" textLength="28.0" lengthAdjust="spacing">part</text>
<text x="779.9" y="456.3" font-size="11.7" textLength="106.9" lengthAdjust="spacing">New skin layer</text>
<text x="772.5" y="486.5" font-size="15.1" textLength="161.8" lengthAdjust="spacing">Removal of dead</text>
<text x="772.5" y="504.6" font-size="15.1" textLength="146.0" lengthAdjust="spacing">cages of a skin</text>
</g>
</svg>
</body></html>
